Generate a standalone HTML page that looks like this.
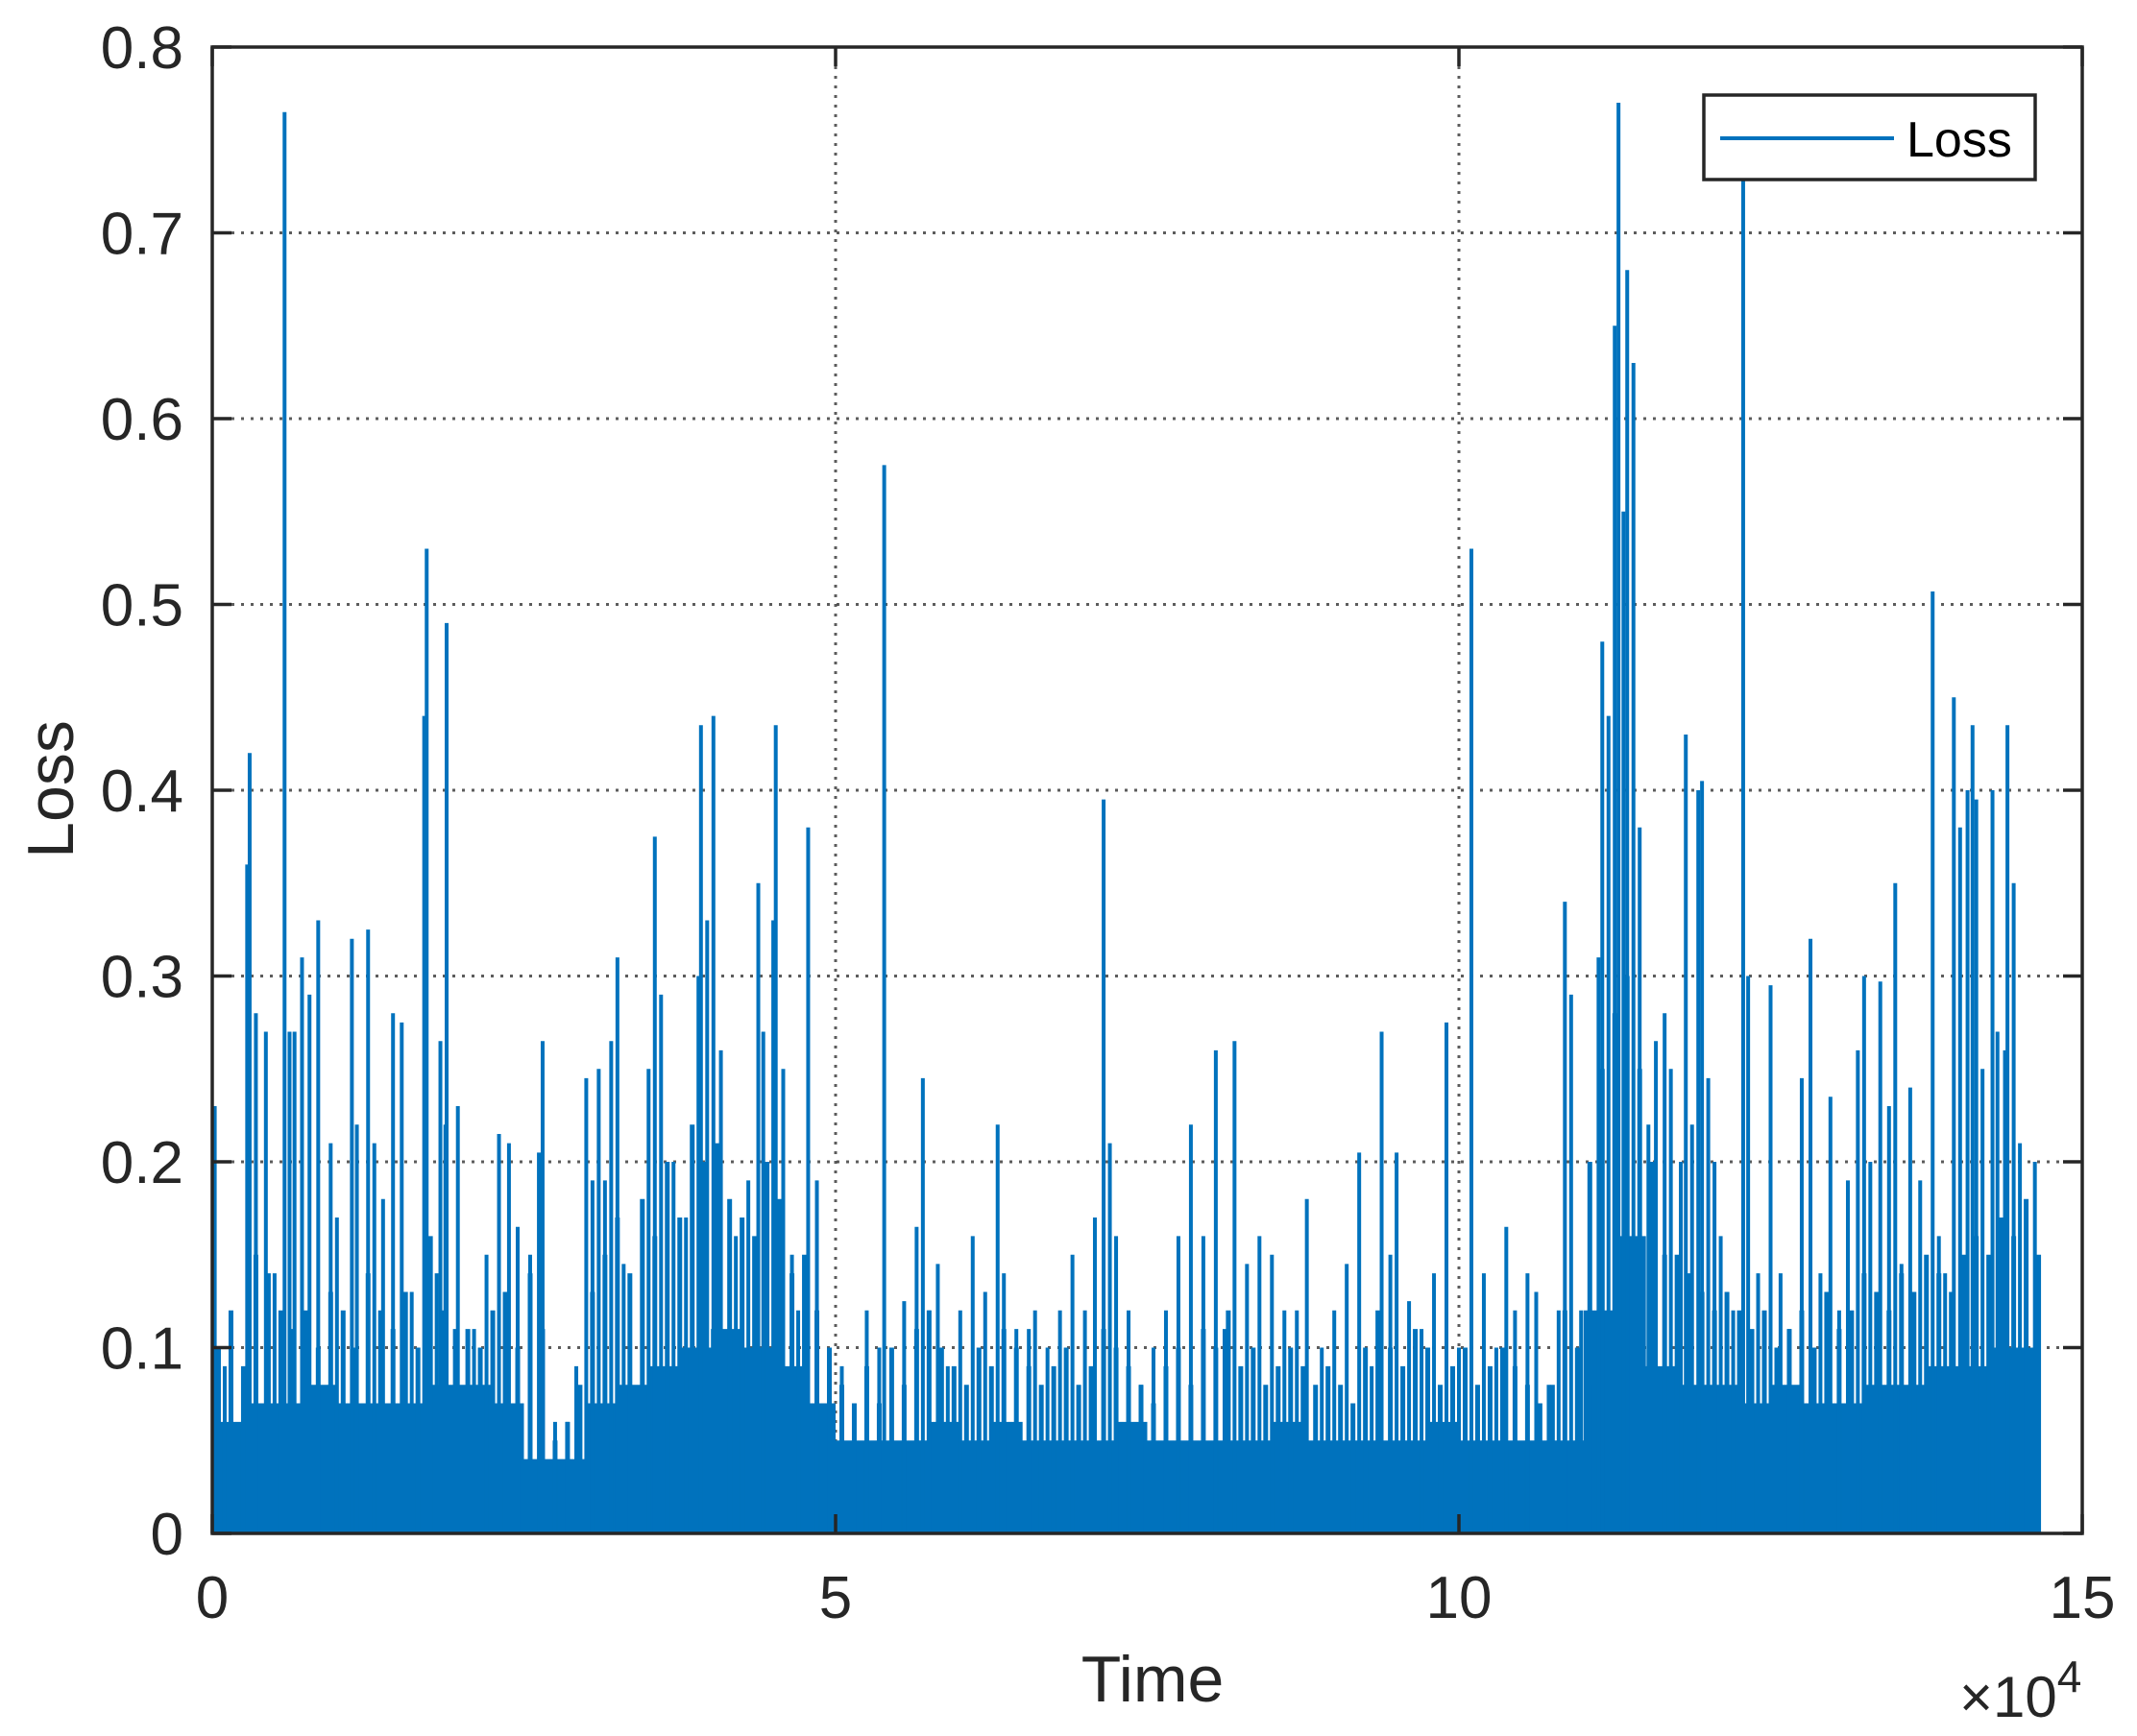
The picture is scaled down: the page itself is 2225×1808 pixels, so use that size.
<!DOCTYPE html>
<html><head><meta charset="utf-8"><style>
html,body{margin:0;padding:0;background:#fff;}
svg{display:block;font-family:"Liberation Sans",Arial,sans-serif;}
</style></head><body>
<svg id="chart" width="2225" height="1808" viewBox="0 0 2225 1808">
<rect width="2225" height="1808" fill="#fff"/>
<g id="grid"></g>
<g id="marks"></g>
<g id="axes"></g>
<g>
<rect x="1774" y="99" width="345" height="88" fill="#fff" stroke="#262626" stroke-width="3.5"/>
<line x1="1791" y1="144" x2="1972" y2="144" stroke="#0072BD" stroke-width="4"/>
<text x="1985" y="163" font-size="52" fill="#000">Loss</text>
</g>
<text x="1200" y="1772" font-size="68" fill="#262626" text-anchor="middle">Time</text>
<text transform="translate(76,822) rotate(-90)" font-size="68" fill="#262626" text-anchor="middle">Loss</text>
<text x="2040" y="1788" font-size="60" fill="#262626">×10<tspan dy="-26" font-size="46">4</tspan></text>
</svg>
<script>
const xTicks=[0,5,10,15];
const xTickLabels=["0","5","10","15"];
const yTicks=[0,0.1,0.2,0.3,0.4,0.5,0.6,0.7,0.8];
const yTickLabels=["0","0.1","0.2","0.3","0.4","0.5","0.6","0.7","0.8"];
// solid base level, one value per 0.25 x10^4 time units
const baseStep=0.25;
const baseLevel=[0.06,0.07,0.07,0.08,0.07,0.07,0.07,0.08,0.08,0.07,0.04,0.04,0.07,0.08,0.09,0.10,0.11,0.10,0.09,0.07,0.05,0.05,0.05,0.06,0.05,0.06,0.05,0.05,0.05,0.06,0.05,0.05,0.05,0.05,0.06,0.05,0.05,0.05,0.05,0.06,0.05,0.05,0.05,0.05,0.12,0.16,0.09,0.08,0.08,0.07,0.08,0.07,0.07,0.08,0.08,0.09,0.09,0.10,0.10];
const dataEnd=14.66;
// dense comb, one value per 0.1 x10^4 time units starting at 0.05
const combStart=0.05, combStep=0.1;
const combValues=[0.1,0.12,0.09,0.15,0.14,0.12,0.11,0.12,0.1,0.13,0.12,0.1,0.14,0.12,0.11,0.13,0.1,0.16,0.12,0.11,0.11,0.1,0.12,0.13,0.1,0.14,0.11,
0.05,0.06,0.08,
0.13,0.15,0.17,0.14,0.18,0.16,0.2,0.17,0.22,0.2,0.21,0.18,0.17,0.16,0.2,0.18,0.14,0.15,0.12,0.1,
0.08,0.07,0.09,0.07,0.1,0.08,0.11,0.12,0.1,0.09,0.08,0.1,0.09,0.11,0.1,0.09,0.08,0.09,0.1,0.08,0.09,0.11,0.1,0.09,0.08,0.07,0.09,0.1,0.08,0.11,0.1,0.12,0.09,0.1,0.08,0.09,0.1,0.09,0.08,0.09,0.08,0.07,0.1,0.12,0.1,0.09,0.11,0.1,0.08,0.09,0.1,0.08,0.09,0.1,0.09,0.08,0.07,0.08,
0.12,0.1,
0.2,0.25,0.28,0.3,0.25,0.2,0.15,
0.15,0.14,0.13,0.12,0.13,0.12,0.11,0.12,0.1,0.11,0.12,0.1,0.13,0.11,0.12,0.14,0.13,0.12,0.14,0.13,0.15,0.14,0.13,0.15,0.16,0.15,0.17,0.16,0.18,0.15];
const spikeTimes=[0.02,0.1,0.28,0.3,0.35,0.43,0.5,0.58,0.62,0.66,0.72,0.78,0.85,0.95,1.0,1.12,1.16,1.25,1.3,1.37,1.45,1.52,1.6,1.7,1.72,1.8,1.83,1.87,1.88,1.97,2.1,2.2,2.3,2.38,2.45,2.55,2.62,2.65,2.75,2.85,2.92,3.0,3.05,3.1,3.15,3.2,3.25,3.3,3.35,3.45,3.5,3.55,3.6,3.7,3.8,3.9,3.92,3.97,4.02,4.08,4.2,4.3,4.38,4.42,4.5,4.52,4.58,4.65,4.7,4.78,4.85,4.95,5.05,5.15,5.25,5.35,5.39,5.45,5.55,5.65,5.7,5.75,5.82,5.9,6.0,6.1,6.2,6.3,6.35,6.45,6.55,6.6,6.7,6.8,6.9,7.0,7.08,7.15,7.2,7.25,7.35,7.45,7.55,7.65,7.75,7.85,7.95,8.05,8.12,8.2,8.3,8.4,8.5,8.6,8.7,8.78,8.9,9.0,9.1,9.2,9.3,9.38,9.45,9.5,9.6,9.7,9.8,9.9,10.0,10.1,10.2,10.3,10.38,10.45,10.55,10.62,10.72,10.8,10.85,10.9,10.98,11.05,11.12,11.15,11.2,11.25,11.28,11.32,11.35,11.4,11.45,11.52,11.58,11.65,11.7,11.78,11.82,11.87,11.92,11.95,12.0,12.05,12.1,12.2,12.28,12.32,12.4,12.5,12.58,12.65,12.75,12.82,12.9,12.98,13.05,13.12,13.2,13.25,13.3,13.38,13.45,13.5,13.55,13.62,13.7,13.75,13.8,13.85,13.9,13.97,14.02,14.08,14.12,14.15,14.2,14.28,14.32,14.38,14.4,14.45,14.5,14.55,14.62];
const spikeValues=[0.23,0.09,0.36,0.42,0.28,0.27,0.14,0.765,0.27,0.27,0.31,0.29,0.33,0.21,0.17,0.32,0.22,0.325,0.21,0.18,0.28,0.275,0.13,0.44,0.53,0.14,0.265,0.22,0.49,0.23,0.11,0.15,0.215,0.21,0.165,0.15,0.205,0.265,0.06,0.06,0.09,0.245,0.19,0.25,0.19,0.265,0.31,0.145,0.13,0.12,0.25,0.375,0.29,0.2,0.17,0.3,0.435,0.33,0.44,0.26,0.16,0.19,0.35,0.27,0.33,0.435,0.25,0.15,0.12,0.38,0.19,0.1,0.09,0.07,0.12,0.1,0.575,0.1,0.125,0.165,0.245,0.12,0.145,0.09,0.12,0.16,0.13,0.22,0.14,0.11,0.11,0.12,0.1,0.12,0.15,0.12,0.17,0.395,0.21,0.16,0.12,0.08,0.1,0.12,0.16,0.22,0.16,0.26,0.11,0.265,0.145,0.16,0.15,0.12,0.12,0.18,0.1,0.12,0.145,0.205,0.09,0.27,0.15,0.205,0.125,0.11,0.14,0.275,0.1,0.53,0.14,0.1,0.165,0.12,0.14,0.13,0.08,0.12,0.34,0.29,0.12,0.08,0.31,0.48,0.44,0.65,0.77,0.55,0.68,0.63,0.38,0.22,0.265,0.28,0.25,0.2,0.43,0.22,0.4,0.405,0.245,0.2,0.16,0.12,0.73,0.3,0.14,0.295,0.14,0.11,0.245,0.32,0.14,0.235,0.12,0.19,0.26,0.3,0.2,0.297,0.23,0.35,0.145,0.24,0.19,0.1,0.507,0.16,0.14,0.45,0.38,0.4,0.435,0.395,0.25,0.4,0.27,0.26,0.435,0.35,0.21,0.14,0.2];

const L=221,R=2168,T=49,B=1597;
const X=v=>L+(v-0)/(15-0)*(R-L);
const Y=v=>B-(v-0)/(0.8-0)*(B-T);
const NS="http://www.w3.org/2000/svg";
function mk(tag,attrs,parent){const e=document.createElementNS(NS,tag);for(const k in attrs)e.setAttribute(k,attrs[k]);parent.appendChild(e);return e;}
const grid=document.getElementById('grid'),marks=document.getElementById('marks'),axes=document.getElementById('axes');

yTicks.forEach((t,i)=>{
  if(t>0&&t<0.8){const g=mk('line',{x1:L,x2:R,y1:Y(t),y2:Y(t),stroke:'#262626','stroke-width':3,'stroke-dasharray':'3 7','stroke-opacity':0.75},grid);
  
  }
  const a=mk('line',{x1:L,x2:L+20,y1:Y(t),y2:Y(t),stroke:'#262626','stroke-width':3.5},axes);
  
  
  const b=mk('line',{x1:R-20,x2:R,y1:Y(t),y2:Y(t),stroke:'#262626','stroke-width':3.5},axes);
  
  
  const tx=mk('text',{x:L-30,y:Y(t)+22,'font-size':62,fill:'#262626','text-anchor':'end'},axes);
  tx.textContent=yTickLabels[i];
  
  
});
xTicks.forEach((t,i)=>{
  if(t>0&&t<15){const g=mk('line',{x1:X(t),x2:X(t),y1:T,y2:B,stroke:'#262626','stroke-width':3,'stroke-dasharray':'3 7','stroke-opacity':0.75},grid);
  
  }
  const a=mk('line',{x1:X(t),x2:X(t),y1:B,y2:B-20,stroke:'#262626','stroke-width':3.5},axes);
  
  
  const b=mk('line',{x1:X(t),x2:X(t),y1:T,y2:T+20,stroke:'#262626','stroke-width':3.5},axes);
  
  
  const tx=mk('text',{x:X(t),y:B+88,'font-size':62,fill:'#262626','text-anchor':'middle'},axes);
  tx.textContent=xTickLabels[i];
  
  
});

let d='M'+X(0)+','+Y(0);
baseLevel.forEach((v,i)=>{const x0=i*baseStep,x1=Math.min((i+1)*baseStep,dataEnd);if(x0>=dataEnd)return;d+=' L'+X(x0)+','+Y(v)+' L'+X(x1)+','+Y(v);});
d+=' L'+X(dataEnd)+','+Y(0)+' Z';
const base=mk('path',{d:d,fill:'#0072BD'},marks);



combValues.forEach((v,i)=>{
  const t=combStart+i*combStep;
  const c=mk('line',{x1:X(t),x2:X(t),y1:Y(0),y2:Y(v),stroke:'#0072BD','stroke-width':5},marks);
  
  
});

spikeTimes.forEach((t,i)=>{
  const s=mk('line',{x1:X(t),x2:X(t),y1:Y(0),y2:Y(spikeValues[i]),stroke:'#0072BD','stroke-width':4},marks);
  
  
});

const frame=mk('rect',{x:L,y:T,width:R-L,height:B-T,fill:'none',stroke:'#262626','stroke-width':3.5},axes);


</script>
</body></html>
